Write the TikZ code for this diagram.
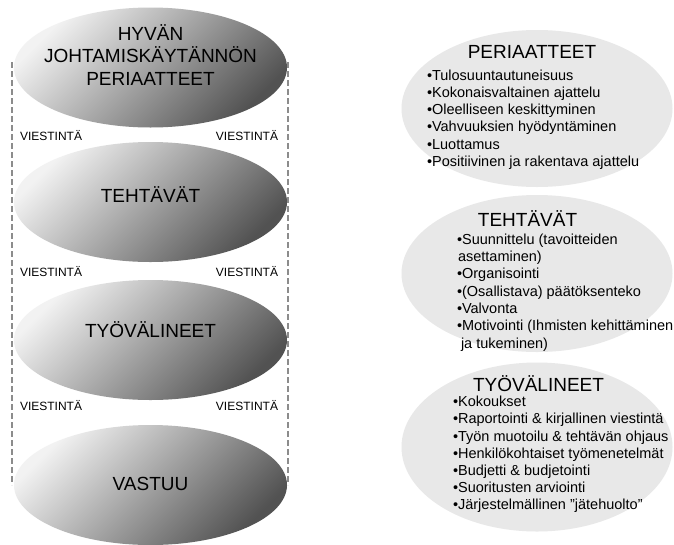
\documentclass[tikz,border=0pt]{standalone}
\usepackage{fontspec}
\setmainfont{Liberation Sans}
\usetikzlibrary{shapes.geometric}
\begin{document}
\begin{tikzpicture}[x=1pt,y=-1pt,
  every node/.style={inner sep=0pt, outer sep=0pt},
  level/.style={ellipse, minimum width=273pt, minimum height=120pt,
    top color=black!5, bottom color=black!68, shading angle=45},
  listblob/.style={ellipse, fill=black!9, minimum width=271pt},
  leveltext/.style={font=\fontsize{19}{22.5}\selectfont, anchor=base},
  commtext/.style={font=\fontsize{12}{14}\selectfont},
  heading/.style={font=\fontsize{19}{22}\selectfont, anchor=base},
  item/.style={font=\fontsize{14.5}{17.3}\selectfont, anchor=base west},
  commline/.style={draw=black!45, line width=2.6pt, dash pattern=on 6pt off 3pt},
]
\useasboundingbox (0,0) rectangle (674,544);
\fill[white] (0,0) rectangle (674,544);

% communication lines on both sides of the level stack
\coordinate (lt) at (12,62);
\coordinate (lb) at (12,485);
\coordinate (rt) at (288,62);
\coordinate (rb) at (288,485);
\draw[commline] (lt) -- (lb);
\draw[commline] (rt) -- (rb);

% the four levels
\node[level] (lev1) at (150.5,67.5) {};
\node[level] (lev2) at (150.5,202) {};
\node[level] (lev3) at (150.5,340) {};
\node[level] (lev4) at (150.5,485) {};

\node[leveltext] (lev1a) at (150.5,40) {HYVÄN};
\node[leveltext] (lev1b) at (150.5,62.5) {JOHTAMISKÄYTÄNNÖN};
\node[leveltext] (lev1c) at (150.5,85) {PERIAATTEET};
\node[leveltext] (lev2t) at (150.5,202) {TEHTÄVÄT};
\node[leveltext] (lev3t) at (150.5,337) {TYÖVÄLINEET};
\node[leveltext] (lev4t) at (150.5,490) {VASTUU};

% communication labels between the levels
\foreach \yy [count=\i] in {140,276.5,410} {
  \node[commtext, anchor=base west] (cl\i) at (20,\yy) {VIESTINTÄ};
  \node[commtext, anchor=base east] (cr\i) at (278,\yy) {VIESTINTÄ};
}

% detail ellipses
\node[listblob, minimum height=157pt] (blobA) at (537,108.5) {};
\node[listblob, minimum height=157pt] (blobB) at (537,273.5) {};
\node[listblob, minimum height=169pt] (blobC) at (537,447) {};

% principles
\node[heading] (headA) at (532,58.5) {PERIAATTEET};
\foreach \txt [count=\i] in {%
  •Tulosuuntautuneisuus,
  •Kokonaisvaltainen ajattelu,
  •Oleelliseen keskittyminen,
  •Vahvuuksien hyödyntäminen,
  •Luottamus,
  •Positiivinen ja rakentava ajattelu}
  \node[item] (itA\i) at (427,{80+17.3*(\i-1)}) {\txt};

% tasks
\node[heading] (headB) at (527.5,226.7) {TEHTÄVÄT};
\node[item] (itB1) at (457,244.3) {•Suunnittelu (tavoitteiden};
\node[item] (itB2) at (458,261.6) {asettaminen)};
\node[item] (itB3) at (457,278.9) {•Organisointi};
\node[item] (itB4) at (457,296.2) {•(Osallistava) päätöksenteko};
\node[item] (itB5) at (457,313.5) {•Valvonta};
\node[item] (itB6) at (457,330.8) {•Motivointi (Ihmisten kehittäminen};
\node[item] (itB7) at (461,348.1) {ja tukeminen)};

% tools
\node[heading] (headC) at (538.5,391.7) {TYÖVÄLINEET};
\foreach \txt [count=\i] in {%
  •Kokoukset,
  {•Raportointi \& kirjallinen viestintä},
  {•Työn muotoilu \& tehtävän ohjaus},
  •Henkilökohtaiset työmenetelmät,
  {•Budjetti \& budjetointi},
  •Suoritusten arviointi,
  •Järjestelmällinen ”jätehuolto”}
  \node[item] (itC\i) at (453,{406.7+17.2*(\i-1)}) {\txt};
\end{tikzpicture}
\end{document}
